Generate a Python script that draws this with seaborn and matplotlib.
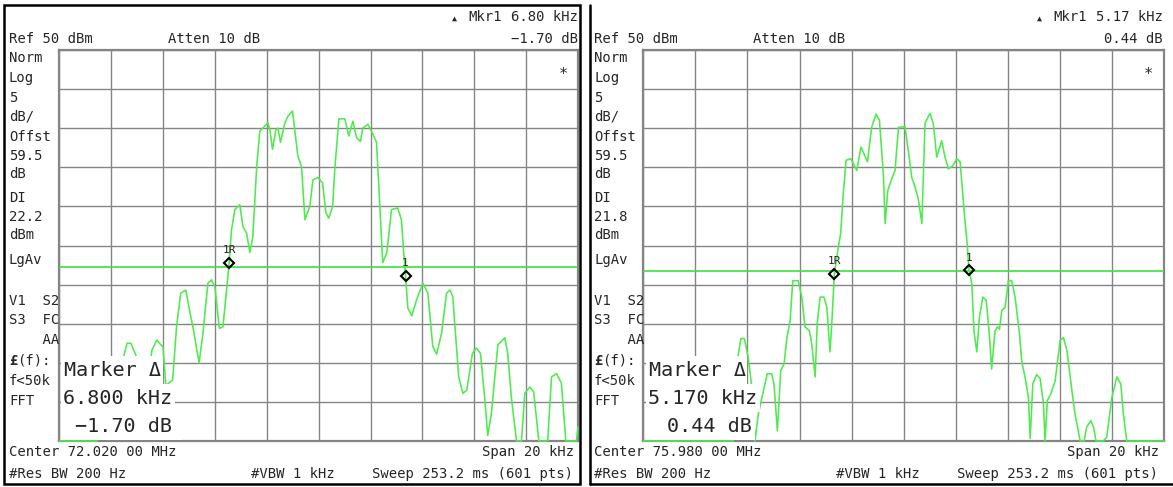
import matplotlib
matplotlib.use("Agg")
import matplotlib.pyplot as plt
from matplotlib.lines import Line2D
from matplotlib.patches import Rectangle
import seaborn as sns
import numpy as np
import pandas as pd

sns.set_style("white")
plt.rcParams['font.family'] = ['DejaVu Sans Mono', 'DejaVu Sans']

W, H = 1173, 487

# Trace data: offset from centre frequency (kHz) and level (dBm)
LEFT_FREQ = [-10.00, -8.55, -8.24, -7.74, -7.51, -7.39, -7.24, -7.04, -6.81, -6.58,
             -6.43, -6.24, -6.00, -5.89, -5.63, -5.48, -5.32, -5.12, -4.96, -4.85,
             -4.61, -4.46, -4.27, -4.13, -4.00, -3.83, -3.69, -3.54, -3.45, -3.36,
             -3.23, -3.04, -2.92, -2.78, -2.65, -2.54, -2.39, -2.27, -2.07, -1.96,
             -1.88, -1.78, -1.65, -1.57, -1.47, -1.30, -1.19, -1.01, -0.80, -0.66,
             -0.53, -0.34, -0.22, -0.03, 0.15, 0.28, 0.39, 0.54, 0.62, 0.78,
             1.01, 1.16, 1.32, 1.46, 1.61, 1.70, 1.90, 2.04, 2.23, 2.36,
             2.47, 2.63, 2.81, 3.05, 3.19, 3.28, 3.35, 3.44, 3.59, 3.77,
             4.02, 4.21, 4.40, 4.55, 4.74, 4.93, 5.06, 5.17, 5.40, 5.56,
             5.71, 5.93, 6.08, 6.24, 6.40, 6.52, 6.66, 6.91, 7.18, 7.29,
             7.43, 7.63, 7.82, 7.95, 8.14, 8.29, 8.49, 8.83, 8.98, 9.17,
             9.36, 9.53, 9.94, 10.00]
LEFT_LEVEL = [0.0, 0.0, 5.2, 7.8, 10.9, 12.5, 12.5, 10.9, 5.2, 7.8,
              11.6, 12.9, 12.0, 7.1, 7.8, 14.6, 18.9, 19.3, 16.4, 14.6,
              10.0, 13.8, 20.2, 20.6, 19.7, 14.4, 14.6, 19.7, 22.8, 27.0,
              29.6, 30.2, 27.4, 26.6, 24.1, 26.1, 35.0, 39.6, 40.3, 40.7,
              39.8, 37.3, 39.8, 40.0, 38.2, 40.7, 41.5, 42.2, 36.4, 35.1,
              28.3, 30.0, 33.4, 33.7, 33.0, 29.2, 28.5, 30.0, 34.7, 41.2,
              41.2, 39.0, 40.9, 38.8, 38.3, 40.0, 40.5, 39.6, 38.2, 30.0,
              22.8, 24.1, 29.6, 29.8, 28.3, 24.1, 21.1, 17.0, 16.0, 18.0,
              20.2, 18.9, 12.1, 11.1, 13.8, 18.9, 19.3, 18.5, 8.2, 6.1,
              6.5, 11.2, 11.9, 11.2, 5.6, 0.7, 3.5, 12.3, 13.2, 11.2,
              5.6, 0.0, 0.0, 6.1, 6.9, 6.3, 0.0, 0.0, 8.2, 8.6,
              7.4, 0.0, 0.0, 1.8]

RIGHT_FREQ = [-10.00, -6.55, -6.37, -6.25, -6.12, -5.97, -5.84, -5.71, -5.58, -5.24,
              -5.07, -4.98, -4.85, -4.72, -4.59, -4.49, -4.36, -4.26, -4.05, -3.91,
              -3.79, -3.62, -3.53, -3.40, -3.32, -3.21, -3.06, -2.95, -2.83, -2.76,
              -2.66, -2.51, -2.42, -2.32, -2.21, -2.03, -1.80, -1.64, -1.39, -1.23,
              -1.06, -0.93, -0.78, -0.71, -0.61, -0.46, -0.33, -0.20, 0.05, 0.18,
              0.31, 0.40, 0.56, 0.70, 0.82, 1.01, 1.14, 1.27, 1.46, 1.59,
              1.72, 1.89, 2.04, 2.17, 2.32, 2.45, 2.51, 2.62, 2.70, 2.81,
              2.91, 3.04, 3.17, 3.29, 3.38, 3.51, 3.60, 3.68, 3.77, 3.90,
              4.02, 4.15, 4.28, 4.45, 4.54, 4.66, 4.79, 4.86, 4.96, 5.11,
              5.24, 5.37, 5.43, 5.52, 5.65, 5.82, 6.01, 6.14, 6.27, 6.46,
              6.58, 6.78, 6.93, 7.03, 7.19, 7.29, 7.39, 7.67, 7.80, 8.00,
              8.19, 8.34, 8.44, 8.57, 10.00]
RIGHT_LEVEL = [0.0, 0.0, 10.7, 13.1, 13.1, 10.7, 7.1, 0.0, 3.5, 8.6,
               8.6, 7.3, 1.3, 9.0, 9.9, 13.1, 15.4, 20.5, 20.5, 18.4,
               14.6, 14.1, 12.4, 8.2, 15.0, 18.4, 18.4, 17.1, 11.4, 15.0,
               21.4, 24.8, 26.5, 31.6, 35.9, 36.1, 34.6, 37.6, 35.7, 40.1,
               41.8, 41.0, 34.2, 27.8, 32.0, 33.5, 34.6, 40.1, 40.2, 37.1,
               33.7, 32.9, 31.0, 27.8, 40.6, 41.9, 40.6, 36.3, 38.4, 36.3,
               34.8, 35.2, 36.1, 35.7, 29.5, 24.8, 21.84, 20.1, 14.1, 11.4,
               15.8, 18.4, 18.0, 13.7, 9.2, 14.1, 14.6, 14.3, 16.7, 17.1,
               20.5, 20.5, 18.4, 13.7, 10.1, 8.2, 5.6, 0.3, 7.3, 8.5,
               8.0, 4.8, 0.0, 5.2, 6.0, 7.7, 12.9, 13.2, 11.6, 6.5,
               3.5, 0.0, 0.0, 1.8, 2.6, 1.8, 0.0, 0.0, 0.5, 5.6,
               8.2, 7.3, 3.5, 0.0, 0.0]

# markers: 1R (reference) and 1 (delta)
MARKER_LABELS = ['1R', '1']
LEFT_MKR_FREQ = [-3.45, 3.35]
LEFT_MKR_LEVEL = [22.8, 21.1]
RIGHT_MKR_FREQ = [-2.66, 2.51]
RIGHT_MKR_LEVEL = [21.4, 21.84]

# display line (dBm)
LEFT_DL = 22.2
RIGHT_DL = 21.8

# screen annotations
LEFT_CENTER = 'Center 72.020 00 MHz'
RIGHT_CENTER = 'Center 75.980 00 MHz'
LEFT_DELTA_F = ['6.80 kHz', '6.800 kHz']
LEFT_DELTA_DB = ['\u22121.70 dB', '\u22121.70 dB']
RIGHT_DELTA_F = ['5.17 kHz', '5.170 kHz']
RIGHT_DELTA_DB = ['0.44 dB', '0.44 dB']

GRID_COLOR = '#858585'
TRACE_COLOR = '#4DEB4D'
DL_COLOR = '#3EE03E'


def fx(x):
    return x / W


def fy(y):
    return 1 - y / H


def white_rect(fig, x1, x2, y1, y2):
    fig.add_artist(Rectangle((fx(x1), fy(y2)), (x2 - x1) / W, (y2 - y1) / H,
                             fc='white', ec='none', zorder=7, transform=fig.transFigure))


def draw_panel(fig, x0, grid_left, grid_right, freq, level, mkr_f, mkr_l,
               dl, center, delta_f, delta_db, db_line3_right, box_right):
    ax = fig.add_axes([fx(grid_left), fy(441), (grid_right - grid_left) / W, 391 / H])
    ax.set_xlim(-10, 10)
    ax.set_ylim(0, 50)
    ax.set_xticks(np.arange(-10, 11, 2))
    ax.set_yticks(np.arange(0, 51, 5))
    ax.grid(True, color=GRID_COLOR, lw=1.0)
    ax.tick_params(length=0, labelbottom=False, labelleft=False)
    for sp in ax.spines.values():
        sp.set_color(GRID_COLOR)
        sp.set_linewidth(1.6)

    ax.axhline(dl, color=DL_COLOR, lw=1.2, zorder=3)

    df = pd.DataFrame({'freq': freq, 'level': level})
    sns.lineplot(data=df, x='freq', y='level', ax=ax, color=TRACE_COLOR, lw=1.15,
                 estimator=None, sort=False, zorder=4)
    ax.lines[-1].set_clip_on(False)
    ax.set_xlabel('')
    ax.set_ylabel('')

    ax.plot(mkr_f, mkr_l, 'D', mfc='none', mec='black', ms=5.5, mew=1.5, zorder=6)
    for lab, f, l in zip(MARKER_LABELS, mkr_f, mkr_l):
        ax.annotate(lab, (f, l), xytext=(0, 9), textcoords='offset points',
                    ha='center', va='center', fontsize=8, zorder=6)

    # header
    fig.text(fx(x0 + 9), fy(39), 'Ref 50 dBm', fontsize=10, va='center')
    fig.text(fx(x0 + 168), fy(39), 'Atten 10 dB', fontsize=10, va='center')
    fig.text(fx(x0 + 454), fy(18), '\u25b2', fontsize=6, va='center', ha='center')
    fig.text(fx(x0 + 468), fy(17), 'Mkr1', fontsize=10, va='center')
    fig.text(fx(x0 + 578), fy(17), delta_f[0], fontsize=10, va='center', ha='right')
    fig.text(fx(x0 + 578), fy(39), delta_db[0], fontsize=10, va='center', ha='right')
    fig.text(fx(x0 + 563), fy(75), '*', fontsize=11, va='center', ha='center')

    # left column
    dl_txt = f'{dl:.1f}'
    column = [('Norm', 58), ('Log', 78), ('5', 98), ('dB/', 117), ('Offst', 137),
              ('59.5', 156), ('dB', 174), ('DI', 198), (dl_txt, 217), ('dBm', 235),
              ('LgAv', 260), ('V1  S2', 301), ('S3  FC', 320), ('    AA', 340),
              ('f<50k', 381), ('FFT', 401)]
    for txt, y in column:
        fig.text(fx(x0 + 9), fy(y), txt, fontsize=10, va='center')
    fig.text(fx(x0 + 9), fy(361), '\u00a3', fontsize=10, va='center', fontweight='bold')
    fig.text(fx(x0 + 17.4), fy(361), '(f):', fontsize=10, va='center')

    # footer
    fig.text(fx(x0 + 9), fy(452), center, fontsize=10, va='center')
    fig.text(fx(x0 + 574), fy(452), 'Span 20 kHz', fontsize=10, va='center', ha='right')
    fig.text(fx(x0 + 9), fy(474), '#Res BW 200 Hz', fontsize=10, va='center')
    fig.text(fx(x0 + 251), fy(474), '#VBW 1 kHz', fontsize=10, va='center')
    fig.text(fx(x0 + 573), fy(474), 'Sweep 253.2 ms (601 pts)', fontsize=10,
             va='center', ha='right')

    # marker readout box (white backing hides trace and grid behind it)
    white_rect(fig, x0 + 61, x0 + box_right[0], 356, 384)
    white_rect(fig, x0 + 61, x0 + box_right[1], 384, 412)
    white_rect(fig, x0 + 61, x0 + box_right[2], 412, 439.5)
    fig.text(fx(x0 + 64), fy(370), 'Marker \u0394', fontsize=14.5, va='center', zorder=8)
    fig.text(fx(x0 + 172), fy(398), delta_f[1], fontsize=14.5, va='center',
             ha='right', zorder=8)
    fig.text(fx(x0 + db_line3_right), fy(426), delta_db[1], fontsize=14.5,
             va='center', ha='right', zorder=8)
    return ax


fig = plt.figure(figsize=(W / 100, H / 100), dpi=100)

draw_panel(fig, 0, 59.3, 578, LEFT_FREQ, LEFT_LEVEL, LEFT_MKR_FREQ, LEFT_MKR_LEVEL,
           LEFT_DL, LEFT_CENTER, LEFT_DELTA_F, LEFT_DELTA_DB, 172, (163, 175, 182))
draw_panel(fig, 585, 643.3, 1164, RIGHT_FREQ, RIGHT_LEVEL, RIGHT_MKR_FREQ, RIGHT_MKR_LEVEL,
           RIGHT_DL, RIGHT_CENTER, RIGHT_DELTA_F, RIGHT_DELTA_DB, 167, (162, 175, 170))

# screen frames
fig.add_artist(Rectangle((fx(4), fy(484)), (580 - 4) / W, (484 - 5) / H,
                         fill=False, ec='black', lw=1.8, transform=fig.transFigure))
fig.add_artist(Line2D([fx(590), fx(590)], [fy(5), fy(484)], color='black', lw=1.8,
                      transform=fig.transFigure))
fig.add_artist(Line2D([fx(590), fx(1173)], [fy(484), fy(484)], color='black', lw=1.8,
                      transform=fig.transFigure))

fig.savefig('out.png', dpi=100)
